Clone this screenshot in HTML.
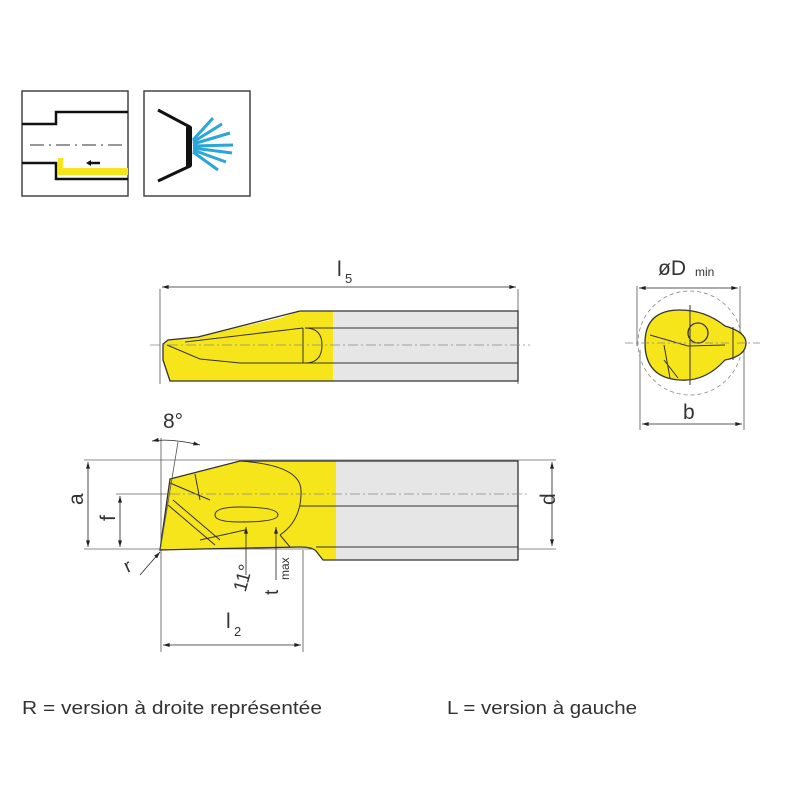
<!DOCTYPE html>
<html><head><meta charset="utf-8"><style>
body{margin:0;background:#fff;}
svg text{font-family:"Liberation Sans",sans-serif;fill:#333;}
</style></head><body>
<svg width="800" height="800" viewBox="0 0 800 800" xmlns="http://www.w3.org/2000/svg">
<defs>
<linearGradient id="g" x1="0" x2="1" y1="0" y2="0">
<stop offset="0" stop-color="#f5e51a"/><stop offset="0.9" stop-color="#f5e51a"/><stop offset="1" stop-color="#e8e8e8"/>
</linearGradient>
<marker id="a" viewBox="0 0 10 6" refX="10" refY="3" markerWidth="9" markerHeight="5" orient="auto-start-reverse"><path d="M0,0L10,3L0,6z" fill="#222"/></marker>
</defs>
<!-- icons -->
<rect x="22" y="91" width="106" height="105" fill="#fff" stroke="#444" stroke-width="1.5"/>
<path d="M58,158 h5 v10 h65 v7 h-70z" fill="#f5e51a"/>
<path d="M22,124 h34 v-12 h72 M22,163 h34 v16 h72" fill="none" stroke="#111" stroke-width="2.5"/>
<path d="M30,145 h98" stroke="#777" stroke-width="1.5" stroke-dasharray="14,5,2,5"/>
<path d="M100,163 h-12" stroke="#111" stroke-width="2.5"/><path d="M86,163 l5,-3 v6z" fill="#111"/>
<rect x="144" y="91" width="106" height="105" fill="#fff" stroke="#444" stroke-width="1.5"/>
<path d="M158,110 L190,127 L190,166 L158,181" fill="none" stroke="#111" stroke-width="3"/>
<path d="M186,127 L192,127 L192,166 L186,166z" fill="#111"/>
<g stroke="#2aa6d8" stroke-width="3">
<path d="M193,140 L213,118 M193,142 L222,124 M193,144 L230,133 M193,146 L233,145 M193,148 L232,153 M193,150 L226,162 M193,152 L218,170"/>
</g>
<!-- top view -->
<path d="M160,289 v95 M518,289 v95" stroke="#555" stroke-width="0.8"/>
<path d="M162,287 H516" stroke="#222" stroke-width="0.8" marker-start="url(#a)" marker-end="url(#a)"/>
<text x="337" y="276" font-size="21">l</text><text x="345" y="283" font-size="13">5</text>
<path d="M163,344 L168,340 L198,337 L280,318 L300,311 L518,311 L518,381 L170,381 L163,360z" fill="url(#g)"/>
<rect x="333" y="311" width="185" height="70" fill="#e6e6e6"/>
<path d="M300,311 H518 V381 H170 L163,360 L163,344 L168,340 L198,337 L300,311" fill="none" stroke="#333" stroke-width="1.3"/>
<path d="M305,328 H518 M240,363 H518 M167,345 L200,359 L240,363 M185,342 L303,328 M305,328 Q322,328 322,345 Q322,363 305,363 M303,328 V363" fill="none" stroke="#333" stroke-width="1"/>
<path d="M150,345 H530" stroke="#888" stroke-width="0.8" stroke-dasharray="10,3,2,3"/>
<!-- end view -->
<path d="M637,286 v60 M740,286 v60 M640,350 v80 M744,350 v80" stroke="#555" stroke-width="0.8"/>
<path d="M639,288 H738" stroke="#222" stroke-width="0.8" marker-start="url(#a)" marker-end="url(#a)"/>
<text x="658" y="275" font-size="21">øD</text><text x="695" y="276" font-size="12">min</text>
<circle cx="690" cy="343" r="52" fill="none" stroke="#888" stroke-width="0.8" stroke-dasharray="4,3"/>
<path d="M645,343 Q645,310 680,310 Q705,310 725,326 Q746,332 746,343 Q746,356 725,360 Q705,382 680,380 Q645,378 645,343z" fill="#f5e51a" stroke="#333" stroke-width="1.3"/>
<circle cx="698" cy="333" r="10" fill="#f5e51a" stroke="#333" stroke-width="1.3"/>
<path d="M650,335 L688,346 L725,345 M664,345 L670,378 M664,360 L678,378 M733,327 V360 M690,305 V385" fill="none" stroke="#333" stroke-width="1"/>
<path d="M625,343 H760" stroke="#888" stroke-width="0.8" stroke-dasharray="8,3,2,3"/>
<path d="M642,424 H742" stroke="#222" stroke-width="0.8" marker-start="url(#a)" marker-end="url(#a)"/>
<text x="683" y="419" font-size="21">b</text>
<!-- side view -->
<path d="M84,460 H556 M84,549 H556 M116,494 H170" stroke="#666" stroke-width="0.8"/>
<path d="M161,438 V652 M303,550 V652" stroke="#555" stroke-width="0.8"/>
<path d="M88,462 V547" stroke="#222" stroke-width="0.8" marker-start="url(#a)" marker-end="url(#a)"/>
<path d="M120,496 V547" stroke="#222" stroke-width="0.8" marker-start="url(#a)" marker-end="url(#a)"/>
<path d="M552,462 V546" stroke="#222" stroke-width="0.8" marker-start="url(#a)" marker-end="url(#a)"/>
<path d="M163,645 H301" stroke="#222" stroke-width="0.8" marker-start="url(#a)" marker-end="url(#a)"/>
<text x="76" y="512" font-size="21" transform="rotate(-90 76 505)">a</text>
<text x="108" y="528" font-size="21" transform="rotate(-90 108 521)">f</text>
<text x="548" y="512" font-size="21" transform="rotate(-90 548 505)">d</text>
<text x="226" y="628" font-size="21">l</text><text x="234" y="636" font-size="13">2</text>
<path d="M160,549 L170,479 L240,461 L518,461 L518,560 L323,560 L316,551 Q312,547 300,547 L250,548 L200,549z" fill="url(#g)"/>
<rect x="336" y="461" width="182" height="99" fill="#e6e6e6"/>
<path d="M240,461 H518 V560 H323 L316,551 Q312,547 300,547 L250,548 L200,549 L160,550 L170,479 L240,461z" fill="none" stroke="#333" stroke-width="1.3"/>
<path d="M316,547 H518 M300,506 H518 M240,461 Q300,465 301,490 Q302,520 280,535 M170,483 L210,500 M195,474 L200,500 M168,505 L215,545 M173,500 L220,540 M215,515 Q215,507 240,507 Q278,507 278,515 Q278,522 240,522 Q215,522 215,515 M280,535 L290,547 M200,540 L245,530" fill="none" stroke="#333" stroke-width="1"/>
<path d="M170,494 H530" stroke="#888" stroke-width="0.8" stroke-dasharray="10,3,2,3"/>
<path d="M178,442 L160,551" stroke="#555" stroke-width="0.8"/>
<path d="M152,441 Q170,438 200,445" fill="none" stroke="#222" stroke-width="0.8" marker-start="url(#a)" marker-end="url(#a)"/>
<text x="163" y="428" font-size="21">8°</text>
<path d="M140,575 L160,552" stroke="#222" stroke-width="0.8" marker-end="url(#a)"/>
<text x="124" y="572" font-size="19" transform="rotate(-25 128 565)">r</text>
<path d="M246,575 V527" stroke="#222" stroke-width="0.8" marker-end="url(#a)"/>
<path d="M276,580 V527" stroke="#222" stroke-width="0.8" marker-end="url(#a)"/>
<text x="228" y="600" font-size="19" transform="rotate(-75 232 585)">11°</text>
<text x="268" y="605" font-size="19" transform="rotate(-90 268 595)">t</text>
<text x="277" y="592" font-size="12" transform="rotate(-90 277 580)">max</text>
<!-- captions -->
<text x="22" y="714" font-size="18" textLength="300" lengthAdjust="spacingAndGlyphs">R = version à droite représentée</text>
<text x="447" y="714" font-size="18" textLength="190" lengthAdjust="spacingAndGlyphs">L = version à gauche</text>
</svg>
</body></html>
